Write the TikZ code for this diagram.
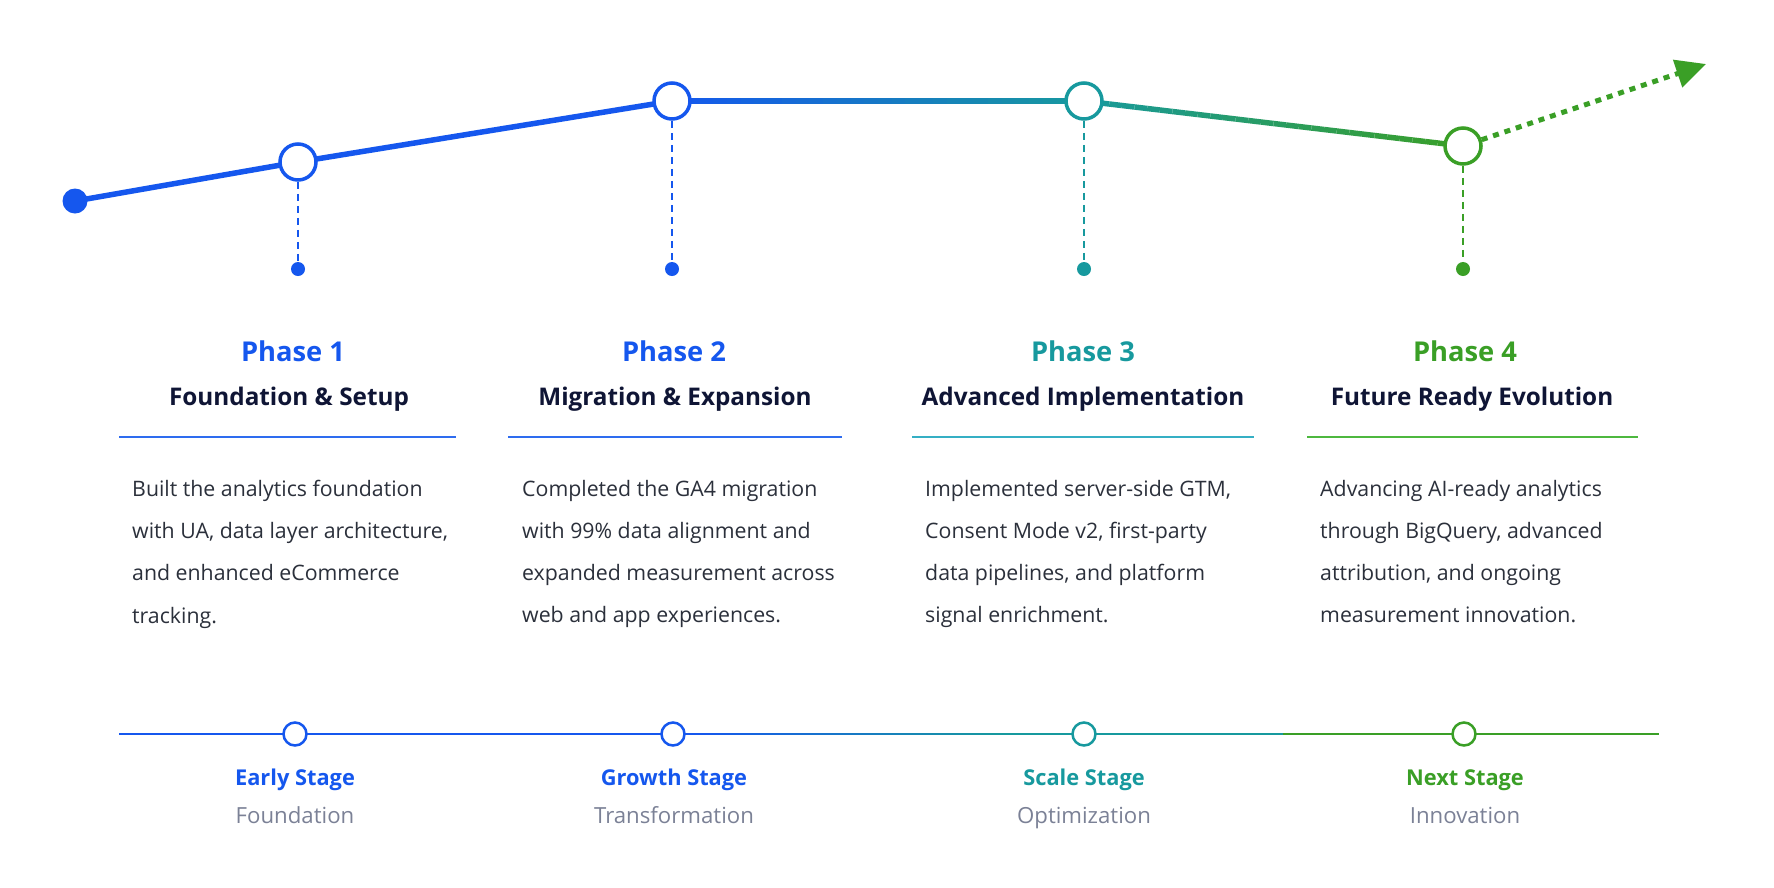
\documentclass[tikz,border=0pt]{standalone}
\usepackage{fontspec}
\setmainfont{Open Sans}
\usetikzlibrary{calc,arrows.meta,backgrounds}

\definecolor{cblue}{HTML}{1557EE}
\definecolor{cteal}{HTML}{17999E}
\definecolor{cgreen}{HTML}{3A9F26}
\definecolor{navy}{HTML}{0F1535}
\definecolor{bodytext}{HTML}{2B303B}
\definecolor{stagegray}{HTML}{7B8196}
\definecolor{ruleblue}{HTML}{2E6CEF}
\definecolor{ruleteal}{HTML}{35AFC4}
\definecolor{rulegreen}{HTML}{4DB83F}

% gradient stroke: style, from, to, colour a, colour b
\newcommand{\gradline}[5]{%
  \foreach \k in {1,...,30}{
    \pgfmathsetmacro{\fa}{(\k-1)/30}
    \pgfmathsetmacro{\fb}{\k/30}
    \pgfmathtruncatemacro{\pct}{100-(\k-0.5)*100/30}
    \draw[#1,draw=#4!\pct!#5] ($(#2)!\fa!(#3)$) -- ($(#2)!\fb!(#3)$);
  }%
}

\begin{document}
\begin{tikzpicture}[x=1pt,y=-1pt,
    ring/.style={circle,draw=#1,fill=white,line width=3.5,minimum size=36,inner sep=0},
    smallring/.style={circle,draw=#1,fill=white,line width=2.5,minimum size=23,inner sep=0},
    pdot/.style={circle,fill=#1,minimum size=14,inner sep=0},
    phase/.style={font=\fontsize{27.3}{30}\selectfont\bfseries,text=#1,anchor=base,inner sep=0},
    title/.style={font=\fontsize{24.3}{28}\selectfont\bfseries,text=navy,anchor=base,inner sep=0},
    body/.style={font=\fontsize{21.3}{42.2}\selectfont,text=bodytext,align=left,anchor=north west,inner sep=0},
    stage/.style={font=\fontsize{21.8}{24}\selectfont\bfseries,text=#1,anchor=base,inner sep=0},
    stagesub/.style={font=\fontsize{22.2}{24}\selectfont,text=stagegray,anchor=base,inner sep=0}]
\useasboundingbox (0,0) rectangle (1774,887);

\node[circle,fill=cblue,minimum size=25,inner sep=0] (s0) at (75,201) {};
\node[ring=cblue] (t1) at (298,162) {};
\node[ring=cblue] (t2) at (672,101) {};
\node[ring=cteal] (t3) at (1084,101) {};
\node[ring=cgreen] (t4) at (1463,146) {};
\coordinate (tip) at (1706,64);

\node[pdot=cblue] (d1) at (298,269) {};
\node[pdot=cblue] (d2) at (672,269) {};
\node[pdot=cteal] (d3) at (1084,269) {};
\node[pdot=cgreen] (d4) at (1463,269) {};

\begin{pgfonlayer}{background}
\fill[white] (0,0) rectangle (1774,887);
\draw[cblue,line width=5.5] (s0.center) -- (t1.center) -- (t2.center);
\gradline{line width=5.5}{t2.center}{t3.center}{cblue}{cteal}
\gradline{line width=5.5}{t3.center}{t4.center}{cteal}{cgreen}
\end{pgfonlayer}
\draw[cgreen,line width=5,dash pattern=on 6 off 6,-{Triangle[length=30,width=28]}] (t4) -- (tip);

\draw[cblue,line width=1.8,dash pattern=on 7 off 5] (t1) -- (d1);
\draw[cblue,line width=1.8,dash pattern=on 7 off 5] (t2) -- (d2);
\draw[cteal,line width=1.8,dash pattern=on 7 off 5] (t3) -- (d3);
\draw[cgreen,line width=1.8,dash pattern=on 7 off 5] (t4) -- (d4);

\node[phase=cblue] (ph1) at (293,361) {Phase 1};
\node[phase=cblue] (ph2) at (674,361) {Phase 2};
\node[phase=cteal] (ph3) at (1083,361) {Phase 3};
\node[phase=cgreen] (ph4) at (1465,361) {Phase 4};

\node[title] (tt1) at (289,405) {Foundation \& Setup};
\node[title] (tt2) at (675,405) {Migration \& Expansion};
\node[title] (tt3) at (1083,405) {Advanced Implementation};
\node[title] (tt4) at (1472,405) {Future Ready Evolution};

\draw[ruleblue,line width=1.8] (119,437) -- (456,437);
\draw[ruleblue,line width=1.8] (508,437) -- (842,437);
\draw[ruleteal,line width=1.8] (912,437) -- (1254,437);
\draw[rulegreen,line width=1.8] (1307,437) -- (1638,437);

\node[body] (bd1) at (132,480) {Built the analytics foundation\\with UA, data layer architecture,\\and enhanced eCommerce\\tracking.};
\node[body] (bd2) at (522,480) {Completed the GA4 migration\\with 99\% data alignment and\\expanded measurement across\\web and app experiences.};
\node[body] (bd3) at (925,480) {Implemented server-side GTM,\\Consent Mode v2, first-party\\data pipelines, and platform\\signal enrichment.};
\node[body] (bd4) at (1320,480) {Advancing AI-ready analytics\\through BigQuery, advanced\\attribution, and ongoing\\measurement innovation.};

\coordinate (bl) at (119,734);
\coordinate (bm1) at (700,734);
\coordinate (bm2) at (1000,734);
\coordinate (bm3) at (1283,734);
\coordinate (br) at (1659,734);
\begin{pgfonlayer}{background}
\draw[cblue,line width=2.2] (bl) -- (bm1);
\gradline{line width=2.2}{bm1}{bm2}{cblue}{cteal}
\draw[cteal,line width=2.2] (bm2) -- (bm3);
\draw[cgreen,line width=2.2] (bm3) -- (br);
\end{pgfonlayer}
\node[smallring=cblue] (b1) at (295,734) {};
\node[smallring=cblue] (b2) at (673,734) {};
\node[smallring=cteal] (b3) at (1084,734) {};
\node[smallring=cgreen] (b4) at (1464,734) {};

\node[stage=cblue] (sg1) at (295,785) {Early Stage};
\node[stage=cblue] (sg2) at (674,785) {Growth Stage};
\node[stage=cteal] (sg3) at (1084,785) {Scale Stage};
\node[stage=cgreen] (sg4) at (1465,785) {Next Stage};

\node[stagesub] (sn1) at (295,823) {Foundation};
\node[stagesub] (sn2) at (674,823) {Transformation};
\node[stagesub] (sn3) at (1084,823) {Optimization};
\node[stagesub] (sn4) at (1465,823) {Innovation};
\end{tikzpicture}
\end{document}
